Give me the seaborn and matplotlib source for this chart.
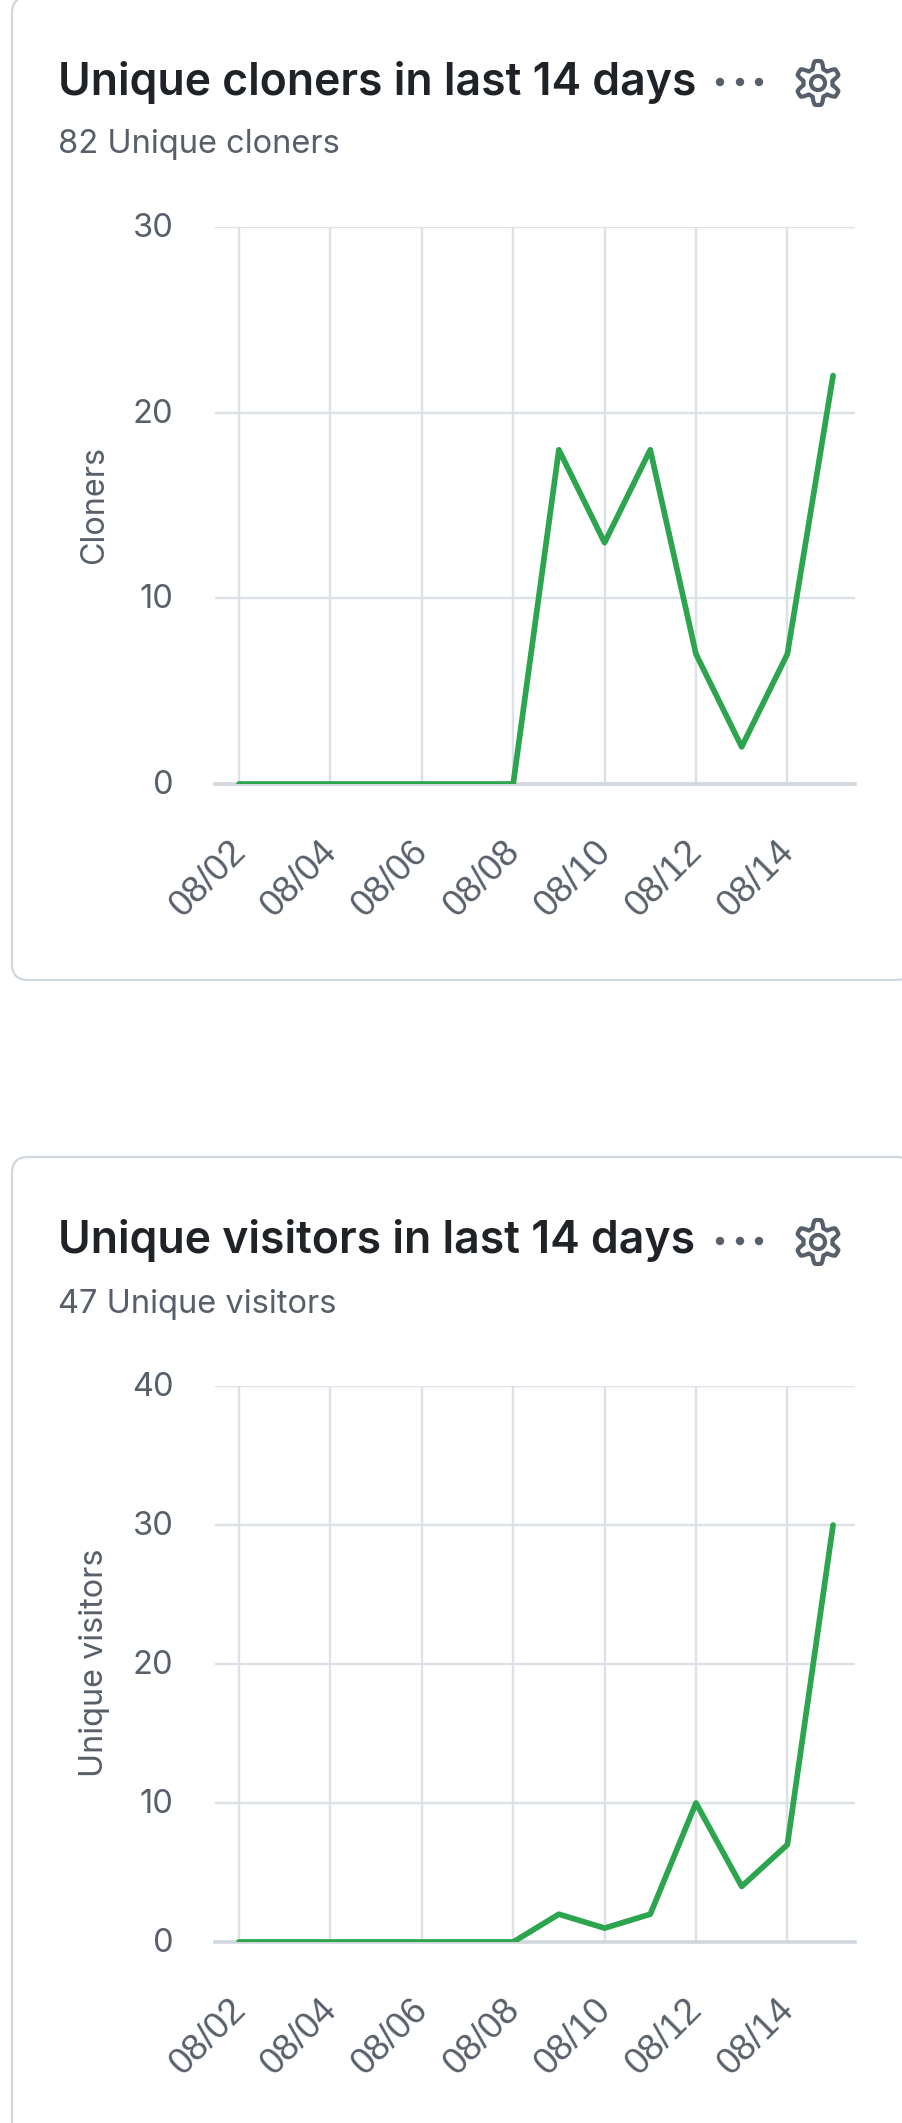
import numpy as np
import pandas as pd
import matplotlib
matplotlib.use('Agg')
import matplotlib.pyplot as plt
import seaborn as sns
from matplotlib.patches import FancyBboxPatch, Circle, Polygon
from matplotlib.transforms import ScaledTranslation

# ── data ──
days = ['08/02', '08/03', '08/04', '08/05', '08/06', '08/07', '08/08',
        '08/09', '08/10', '08/11', '08/12', '08/13', '08/14', '08/15']
cloners = [0, 0, 0, 0, 0, 0, 0, 18, 13, 18, 7, 2, 7, 22]
visitors = [0, 0, 0, 0, 0, 0, 0, 2, 1, 2, 10, 4, 7, 30]
tick_days = ['08/02', '08/04', '08/06', '08/08', '08/10', '08/12', '08/14']
cloner_ticks = [0, 10, 20, 30]
visitor_ticks = [0, 10, 20, 30, 40]

W, H = 903, 2123
GREEN = '#2da44e'
GRID = '#dbe1e7'
AXIS = '#d0d7de'
BORDER = '#d0d7de'
MUTED = '#57606a'
DARK = '#1f2328'

sns.set_theme(style='white')
plt.rcParams['font.family'] = ['Inter', 'Noto Sans', 'DejaVu Sans']

fig = plt.figure(figsize=(W / 100, H / 100), dpi=100, facecolor='white')

# full figure layer in pixel coordinates for the cards and header
bg = fig.add_axes([0, 0, 1, 1], zorder=0)
bg.set_xlim(0, W)
bg.set_ylim(H, 0)
bg.axis('off')


def gear(cx, cy, r=22):
    ang = np.linspace(0, 2 * np.pi, 360, endpoint=False)
    wave = np.clip(np.cos(6 * (ang + np.pi / 2)) * 1.6, -1, 1)
    rad = r * (0.83 + 0.17 * wave)
    pts = np.column_stack([cx + rad * np.cos(ang), cy + rad * np.sin(ang)])
    bg.add_patch(Polygon(pts, closed=True, fill=False, ec=MUTED, lw=3.0, joinstyle='round'))
    bg.add_patch(Circle((cx, cy), r * 0.32, fill=False, ec=MUTED, lw=3.0))


def draw_card(top, bottom, title, subtitle, ylabel, values, yticks, ax_top, ax_bottom):
    bg.add_patch(FancyBboxPatch((12, top), 900, bottom - top,
                                boxstyle='round,pad=0,rounding_size=16',
                                fc='white', ec=BORDER, lw=1.6))
    bg.text(58, ax_top - 145, title, fontsize=32.1, fontweight=600, color=DARK, va='center', ha='left')
    bg.text(58, ax_top - 82, subtitle, fontsize=23.5, color=MUTED, va='center', ha='left')
    for dx in (720, 740, 759):
        bg.add_patch(Circle((dx, ax_top - 145), 4.2, fc=MUTED, ec='none'))
    gear(818, ax_top - 144)

    ax = fig.add_axes([215 / W, 1 - ax_bottom / H, 640 / W, (ax_bottom - ax_top) / H], zorder=1)
    ax.patch.set_alpha(0)
    df = pd.DataFrame({'day': days, 'value': values})
    sns.lineplot(data=df, x='day', y='value', color=GREEN, linewidth=4.1, ax=ax, zorder=3)
    ax.set_xlim(-0.525, 13.48)
    ax.set_ylim(yticks[0], yticks[-1])
    ax.set_xticks([days.index(d) for d in tick_days])
    ax.set_xticklabels(tick_days, rotation=45, ha='right', rotation_mode='anchor',
                       fontsize=26.5, color=MUTED, family=['Liberation Sans'])
    ax.set_yticks(yticks)
    ax.set_yticklabels([str(t) for t in yticks], fontsize=23.5, color=MUTED)
    ax.tick_params(axis='x', length=0, pad=36)
    ax.tick_params(axis='y', length=0, pad=30)
    # labels are nudged to where the reference has them
    for lab in ax.get_yticklabels():
        lab.set_transform(lab.get_transform() + ScaledTranslation(0, 2 / 100, fig.dpi_scale_trans))
    for lab in ax.get_xticklabels():
        lab.set_transform(lab.get_transform() + ScaledTranslation(-11 / 100, 0, fig.dpi_scale_trans))
    ax.grid(True, color=GRID, lw=1.7)
    ax.set_axisbelow(True)
    sns.despine(ax=ax, left=True, top=True, right=True)
    ax.spines['bottom'].set_color(AXIS)
    ax.spines['bottom'].set_linewidth(2.6)
    ax.spines['bottom'].set_zorder(2)
    ax.set_xlabel('')
    ax.set_ylabel('')
    bg.text(95, (ax_top + ax_bottom) / 2 - 1, ylabel, rotation=90, fontsize=23.3,
            color=MUTED, va='center', ha='center')
    return ax


draw_card(-3, 980, 'Unique cloners in last 14 days', '82 Unique cloners', 'Cloners',
          cloners, cloner_ticks, 227, 784)
draw_card(1157, 2200, 'Unique visitors in last 14 days', '47 Unique visitors', 'Unique visitors',
          visitors, visitor_ticks, 1386, 1942)

fig.savefig('out.png', dpi=100, facecolor='white')
